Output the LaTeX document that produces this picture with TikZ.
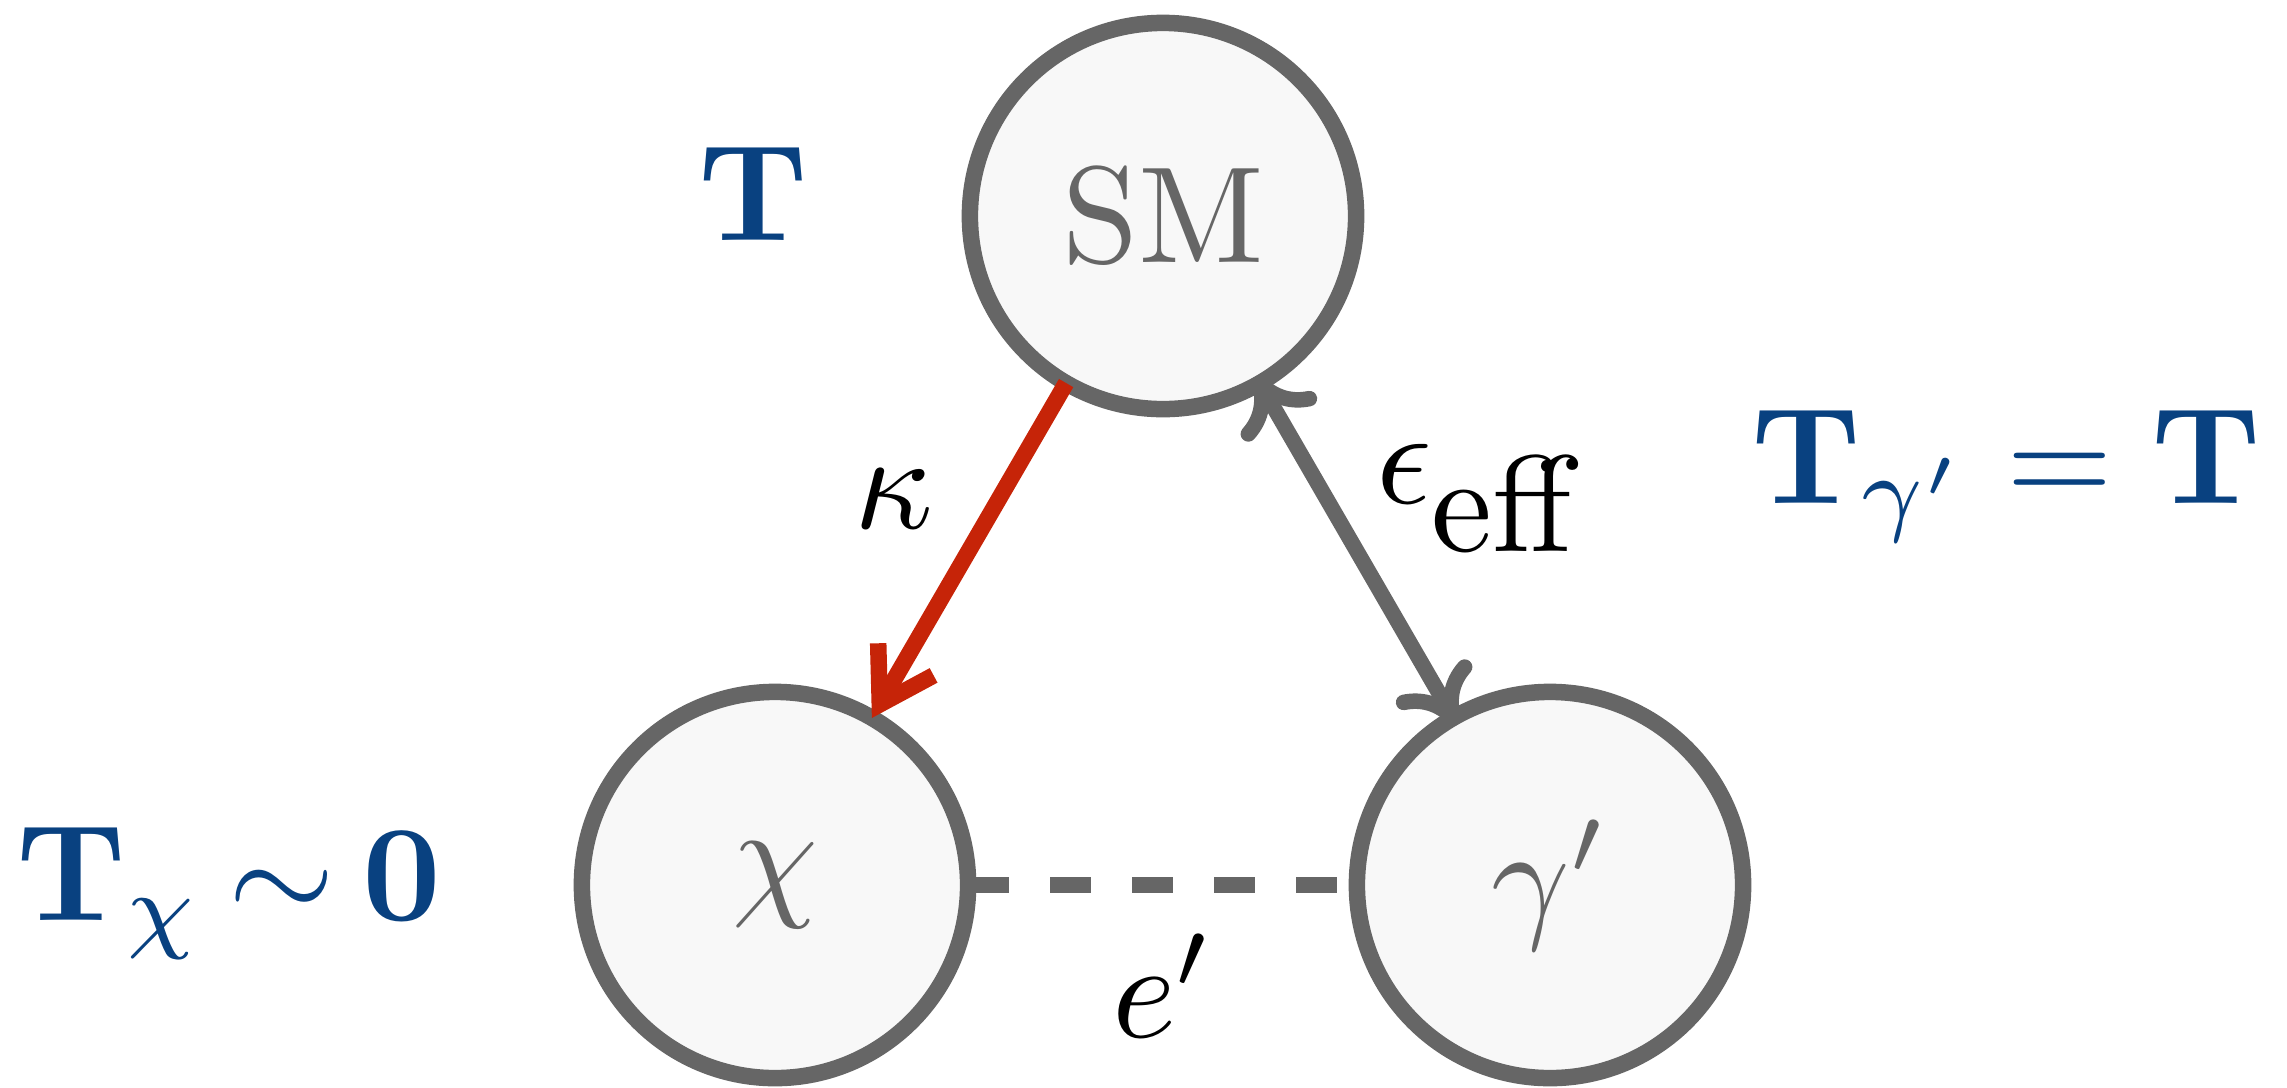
\documentclass[tikz,border=0pt]{standalone}
\usepackage{graphicx}
\usetikzlibrary{arrows.meta}
\definecolor{edgegray}{RGB}{102,102,102}
\definecolor{fillgray}{RGB}{248,248,248}
\definecolor{tblue}{RGB}{9,65,128}
\definecolor{kred}{RGB}{198,36,8}
\newcommand{\bigtxt}[1]{\scalebox{3.9}{#1}}
\tikzset{
  state/.style={circle, draw=edgegray, fill=fillgray, line width=0.165cm,
    minimum size=3.86cm, inner sep=0pt, outer sep=0pt, text=edgegray},
  lab/.style={inner sep=0pt, outer sep=0pt},
  bluelab/.style={lab, text=tblue},
  redarrow/.style={draw=kred, line width=0.165cm,
    -{Straight Barb[length=5.2mm, width=6.4mm, sharp]}},
  grayarrow/.style={draw=edgegray, line width=0.155cm,
    {Computer Modern Rightarrow[length=5.4mm, width=8.6mm]}-{Computer Modern Rightarrow[length=5.4mm, width=8.6mm]},
    shorten <=-0.08cm, shorten >=-0.08cm},
  dashlink/.style={draw=edgegray, line width=0.165cm, dash pattern=on 0.41cm off 0.41cm}
}
\begin{document}
\begin{tikzpicture}[x=0.01cm, y=-0.01cm]
\useasboundingbox (0,0) rectangle (2287,1087);
\node[state] (SM) at (1163,216) {\bigtxt{SM}};
\node[state] (chi) at (775,885) {\bigtxt{$\chi$}};
\node[state] (gp) at (1550,885) {\bigtxt{$\gamma'$}};
\draw[redarrow] (SM) -- (chi);
\draw[grayarrow] (SM) -- (gp);
\draw[dashlink] (chi) -- (gp);
\node[bluelab, anchor=base] (Ttop) at (753,240) {\bigtxt{$\mathbf{T}$}};
\node[lab, anchor=base] (kappa) at (894,528) {\bigtxt{$\kappa$}};
\node[lab, anchor=base west] (eps) at (1376,503) {\bigtxt{$\epsilon$\raisebox{-3.57pt}{eff}}};
\node[lab, anchor=base west] (eprime) at (1112,1037) {\bigtxt{$e'$}};
\node[bluelab, anchor=base west] (Tg) at (1751,503) {\bigtxt{$\mathbf{T}_{\gamma'}=\mathbf{T}$}};
\node[bluelab, anchor=base west] (Tchi) at (17,920) {\bigtxt{$\mathbf{T}_{\chi}\mkern-1.5mu\sim\mkern-1.5mu\mathbf{0}$}};
\end{tikzpicture}
\end{document}
